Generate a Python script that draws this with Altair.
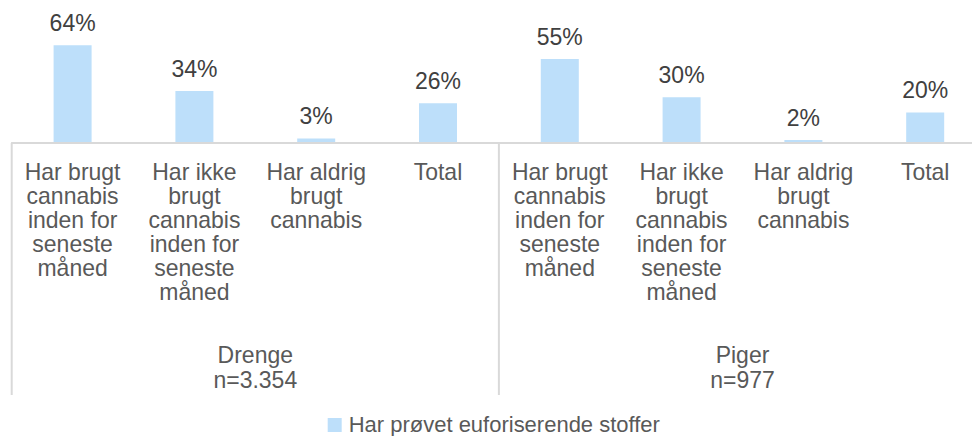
import altair as alt
import pandas as pd

groups = ["Drenge", "Piger"]
group_n = ["n=3.354", "n=977"]
categories = [
    "Har brugt\ncannabis\ninden for\nseneste\nmåned",
    "Har ikke\nbrugt\ncannabis\ninden for\nseneste\nmåned",
    "Har aldrig\nbrugt\ncannabis",
    "Total",
]
drenge_values = [0.64, 0.34, 0.03, 0.26]
piger_values = [0.55, 0.30, 0.02, 0.20]
series_name = "Har prøvet euforiserende stoffer"

rows = []
for g, vals in zip(groups, [drenge_values, piger_values]):
    for i, (c, v) in enumerate(zip(categories, vals)):
        rows.append({"key": f"{g}{i}", "group": g, "category": c, "value": v,
                     "series": series_name})
df = pd.DataFrame(rows)
order = list(df["key"])

grp_df = pd.DataFrame({"key": [f"{g}1" for g in groups],
                       "label": [f"{g}\n{n}" for g, n in zip(groups, group_n)]})
sep_df = pd.DataFrame({"key": [f"{g}0" for g in groups]})

STEP = 121.8
PLOT_W = 960
xscale = alt.Scale(domain=order, range=[0, STEP * 8], paddingInner=0.688, paddingOuter=0.344)
x = alt.X("key:N", scale=xscale, axis=None)
yscale = alt.Scale(domain=[0, 0.7])
FONT = "Liberation Sans"
GRAY = "#595959"
FS = 23

bars = alt.Chart(df).mark_bar(color="#BDDFFA").encode(
    x=x,
    y=alt.Y("value:Q", scale=yscale, axis=None),
    color=alt.Color("series:N", scale=alt.Scale(range=["#BDDFFA"]),
                    legend=alt.Legend(title=None, orient="none", legendX=312, legendY=378,
                                      symbolType="square", symbolSize=196,
                                      symbolStrokeWidth=0, labelFontSize=22,
                                      labelColor=GRAY, labelFont=FONT, labelOffset=3,
                                      labelLimit=0, padding=0)),
)

value_labels = alt.Chart(df).mark_text(
    baseline="alphabetic", dy=-14, fontSize=FS, font=FONT, color="#404040"
).encode(
    x=x,
    y=alt.Y("value:Q", scale=yscale),
    text=alt.Text("value:Q", format=".0%"),
)

cat_labels = alt.Chart(df).mark_text(
    baseline="alphabetic", fontSize=FS, font=FONT, color=GRAY, lineBreak="\n",
    lineHeight=24
).encode(
    x=x,
    y=alt.value(144),
    text="category:N",
)

grp_labels = alt.Chart(grp_df).mark_text(
    baseline="alphabetic", fontSize=FS, font=FONT, color=GRAY, lineBreak="\n",
    lineHeight=25, dx=STEP / 2
).encode(
    x=x,
    y=alt.value(327),
    text="label:N",
)

baseline = alt.Chart(df).mark_rule(color="#D9D9D9", strokeWidth=2).encode(
    y=alt.datum(0, scale=yscale),
    x=alt.value(0),
    x2=alt.value(980),
)

separators = alt.Chart(sep_df).mark_rule(color="#D9D9D9", strokeWidth=2,
                                         xOffset=-(STEP * 0.344)).encode(
    x=alt.X("key:N", scale=xscale, axis=None, bandPosition=0),
    y=alt.value(107),
    y2=alt.value(359),
)

chart = alt.layer(bars, value_labels, cat_labels, grp_labels, baseline, separators).properties(
    width=PLOT_W,
    height=107,
    autosize=alt.AutoSizeParams(type="none"),
    padding={"left": 3.7, "top": 28, "right": 0, "bottom": 293},
).configure(font=FONT, view=alt.ViewConfig(stroke=None))

chart.save("out.html", embed_options={"renderer": "svg", "actions": False})
